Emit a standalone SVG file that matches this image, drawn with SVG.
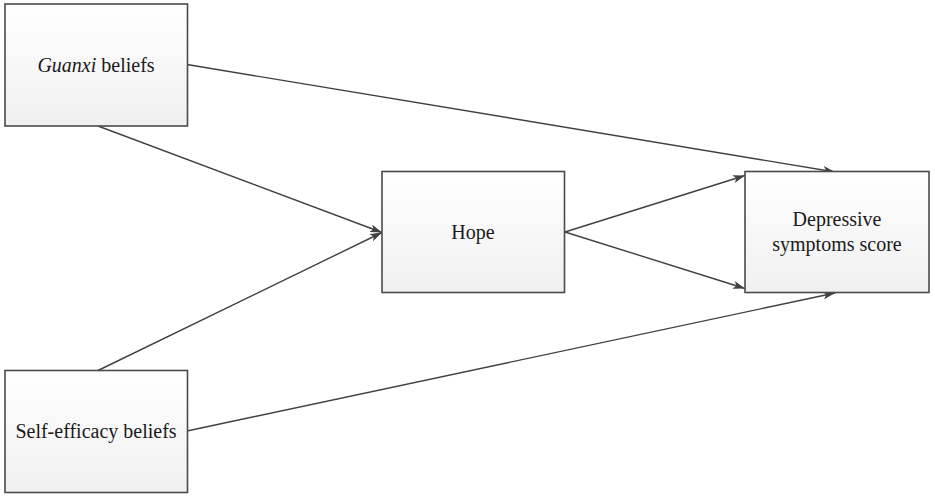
<svg xmlns="http://www.w3.org/2000/svg" width="935" height="499" viewBox="0 0 935 499">
<defs>
<linearGradient id="g" x1="0" y1="0" x2="0" y2="1">
<stop offset="0" stop-color="#ffffff"/>
<stop offset="1" stop-color="#f0f0f0"/>
</linearGradient>
<marker id="arr" viewBox="0 0 12 8" refX="12" refY="4" markerWidth="12" markerHeight="8" markerUnits="userSpaceOnUse" orient="auto">
<path d="M0,0 L12,4 L0,8 L3,4 z" fill="#404040"/>
</marker>
<style>
.box{fill:url(#g);stroke:#4a4a4a;stroke-width:1.6}
.lbl{font-family:"Liberation Serif","Times New Roman",serif;font-size:20px;fill:#1a1a1a;text-anchor:middle}
.edge{stroke:#404040;stroke-width:1.4;fill:none;marker-end:url(#arr)}
</style>
</defs>
<rect width="935" height="499" fill="#ffffff"/>
<g id="connectors">
<line class="edge" x1="187" y1="64.5" x2="835" y2="172"/>
<line class="edge" x1="98" y1="126" x2="382" y2="232.5"/>
<line class="edge" x1="98" y1="370.5" x2="382" y2="232.5"/>
<line class="edge" x1="187" y1="431" x2="835" y2="293"/>
<line class="edge" x1="565" y1="232" x2="745" y2="175.5"/>
<line class="edge" x1="565" y1="232" x2="745" y2="288.5"/>
</g>
<g id="guanxi">
<rect class="box" x="5" y="4" width="182.5" height="122"/>
<text class="lbl" x="96" y="72"><tspan font-style="italic">Guanxi</tspan> beliefs</text>
</g>
<g id="self-efficacy">
<rect class="box" x="5" y="370.5" width="182.5" height="122"/>
<text class="lbl" x="96" y="438">Self-efficacy beliefs</text>
</g>
<g id="hope">
<rect class="box" x="382" y="171.5" width="182.5" height="121"/>
<text class="lbl" x="473" y="239">Hope</text>
</g>
<g id="depressive">
<rect class="box" x="745" y="171.5" width="184" height="121"/>
<text class="lbl" x="837" y="226">Depressive</text>
<text class="lbl" x="837" y="251">symptoms score</text>
</g>
</svg>
